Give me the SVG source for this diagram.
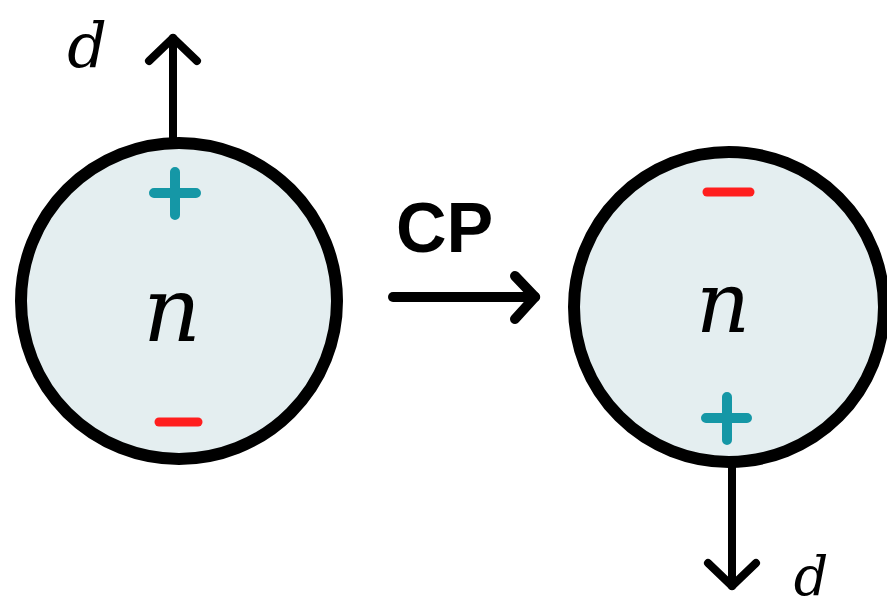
<svg xmlns="http://www.w3.org/2000/svg" width="887" height="610" viewBox="0 0 887 610">
<defs>
<style>
.body{fill:#e4eef0;stroke:#000;stroke-width:12}
.plus{stroke:#1597a6;stroke-width:10;stroke-linecap:round;fill:none}
.minus{stroke:#ff1e1e;stroke-width:9;stroke-linecap:round;fill:none}
.conn{stroke:#000;stroke-width:8;stroke-linecap:round;fill:none}
.big{stroke-width:10}
.script{font-family:"DejaVu Serif",serif;font-style:italic;fill:#000}
.lab{font-family:"Liberation Sans",Arial,sans-serif;font-weight:bold;font-size:70px;fill:#000}
</style>
<marker id="head" markerUnits="userSpaceOnUse" orient="auto" markerWidth="60" markerHeight="60" refX="0" refY="0" viewBox="-30 -30 60 60" overflow="visible">
<path d="M -23 -24 L 0 0 L -23 24" fill="none" stroke="#000" stroke-width="8" stroke-linecap="round" stroke-linejoin="round"/>
</marker>
<marker id="headBig" markerUnits="userSpaceOnUse" orient="auto" markerWidth="60" markerHeight="60" refX="0" refY="0" viewBox="-30 -30 60 60" overflow="visible">
<path d="M -20 -21 L 0 0 L -20 22" fill="none" stroke="#000" stroke-width="10" stroke-linecap="round" stroke-linejoin="round"/>
</marker>
</defs>
<rect width="887" height="610" fill="#fff"/>
<g id="connectors">
<path class="conn" d="M 173 140 L 173 38" marker-end="url(#head)"/>
<path class="conn big" d="M 393 297 L 535 297" marker-end="url(#headBig)"/>
<path class="conn" d="M 732 465 L 732 586" marker-end="url(#head)"/>
</g>
<g id="neutron-left">
<circle class="body" cx="179" cy="301" r="158"/>
<path class="plus" d="M 154 193 L 196 193 M 175 172 L 175 215"/>
<path class="minus" d="M 159 422 L 198 422"/>
<text class="script" x="172" y="341" font-size="90" text-anchor="middle">n</text>
</g>
<g id="neutron-right">
<circle class="body" cx="729" cy="307" r="155"/>
<path class="minus" d="M 707 192 L 750 192"/>
<path class="plus" d="M 706 418 L 747 418 M 727 397 L 727 440"/>
<text class="script" x="723" y="332" font-size="84" text-anchor="middle">n</text>
</g>
<g id="label-d-top">
<text class="script" x="87" y="67" font-size="62" text-anchor="middle">d</text>
</g>
<g id="label-cp">
<text class="lab" x="396" y="252">CP</text>
</g>
<g id="label-d-bottom">
<text class="script" x="811" y="595" font-size="54" text-anchor="middle">d</text>
</g>
</svg>
